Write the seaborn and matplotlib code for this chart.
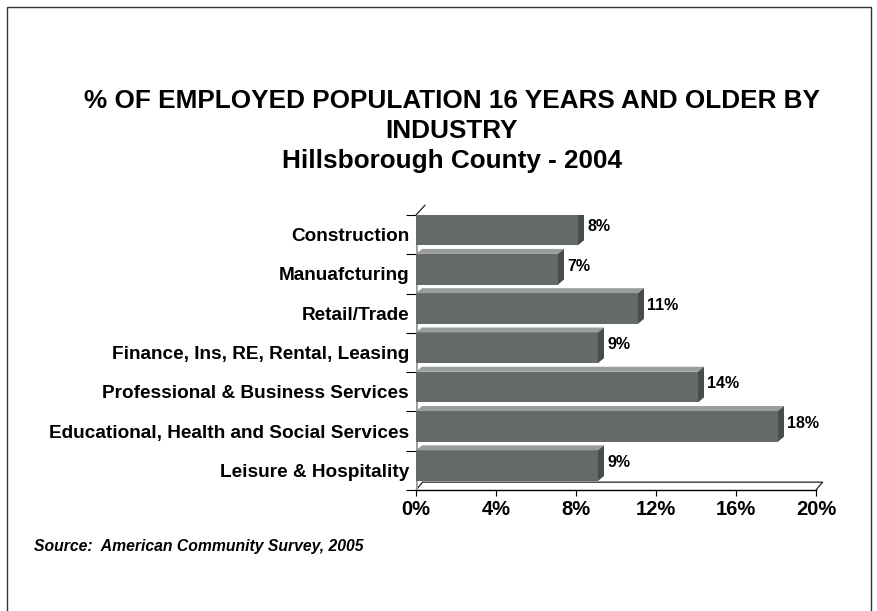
import matplotlib
matplotlib.use("Agg")
import matplotlib.pyplot as plt
import seaborn as sns
import pandas as pd
from matplotlib.patches import Polygon, Rectangle
from matplotlib.lines import Line2D

categories = ["Construction", "Manuafcturing", "Retail/Trade",
              "Finance, Ins, RE, Rental, Leasing",
              "Professional & Business Services",
              "Educational, Health and Social Services",
              "Leisure & Hospitality"]
values = [8.1, 7.1, 11.1, 9.1, 14.1, 18.1, 9.1]
value_labels = ["8%", "7%", "11%", "9%", "14%", "18%", "9%"]
x_ticks = [0, 4, 8, 12, 16, 20]
x_tick_labels = ["0%", "4%", "8%", "12%", "16%", "20%"]

sns.set_theme(style="white")
plt.rcParams["font.family"] = ["Liberation Sans", "DejaVu Sans"]
plt.rcParams["text.color"] = "black"
plt.rcParams["xtick.color"] = "black"
plt.rcParams["ytick.color"] = "black"
plt.rcParams["axes.labelcolor"] = "black"

W, H = 877, 611
fig = plt.figure(figsize=(W / 100, H / 100), dpi=100)
ax = fig.add_axes([416 / W, 1 - 490 / H, 400 / W, 275 / H])

df = pd.DataFrame({"industry": categories, "pct": values})
sns.barplot(data=df, x="pct", y="industry", orient="h", color="#646a69",
            saturation=1, width=0.78, ax=ax, zorder=3)

ax.set_xlim(0, 20)
ax.set_ylim(6.5, -0.5)

px_x = 400 / 20.0
px_y = 275 / 7.0
dx = 6 / px_x
dy = 5 / px_y
shift = 0.12

for p, lab in zip(ax.patches, value_labels):
    p.set_edgecolor("none")
    p.set_y(p.get_y() - shift)
    x1 = p.get_width()
    y0 = p.get_y()
    y1 = y0 + p.get_height()
    top = Polygon([(0, y0), (x1, y0), (x1 + dx, y0 - dy), (dx, y0 - dy)],
                  closed=True, facecolor="#9b9d9d", edgecolor="none", zorder=3)
    side = Polygon([(x1, y0), (x1 + dx, y0 - dy), (x1 + dx, y1 - dy), (x1, y1)],
                   closed=True, facecolor="#474d4c", edgecolor="none", zorder=3)
    ax.add_patch(top)
    ax.add_patch(side)
    ax.text(x1 + dx + 0.15, (y0 + y1) / 2 - 0.08, lab, fontsize=11.5,
            fontweight="bold", color="black", va="center", ha="left", zorder=4)

fy = 6.5
ax.add_line(Line2D([0, dx * 1.1, 20 + dx * 1.1, 20], [fy, fy - 0.2, fy - 0.2, fy],
                   color="#222222", lw=0.9, clip_on=False, zorder=2))
ax.add_line(Line2D([0, dx * 1.5], [-0.5, -0.5 - 0.25],
                   color="#222222", lw=0.9, clip_on=False, zorder=2))
ax.add_patch(Rectangle((0, -0.5), 0.12, 7.0, facecolor="#a0a0a0",
                       edgecolor="none", clip_on=False, zorder=2))

for s in ["top", "right", "left"]:
    ax.spines[s].set_visible(False)
ax.spines["bottom"].set_color("black")
ax.spines["bottom"].set_linewidth(1.0)

ax.set_xticks(x_ticks)
ax.set_xticklabels(x_tick_labels, fontsize=14.5, fontweight="bold")
ax.tick_params(axis="x", length=4, width=0.8, color="black", bottom=True,
               direction="out", pad=3)
ax.set_yticks(range(len(categories)))
ax.set_yticklabels(categories, fontsize=13.7, fontweight="bold")
ax.tick_params(axis="y", length=0, pad=5)
ax.set_yticks([i + 0.5 for i in range(-1, len(categories))], minor=True)
ax.tick_params(axis="y", which="minor", length=7, width=0.8, color="black", left=True)
ax.set_xlabel("")
ax.set_ylabel("")
ax.grid(False)

fs_title = 18.8
fig.text(452 / W, 1 - 101 / H, "% OF EMPLOYED POPULATION 16 YEARS AND OLDER BY",
         ha="center", va="center", fontsize=fs_title, fontweight="bold")
fig.text(452 / W, 1 - 131 / H, "INDUSTRY",
         ha="center", va="center", fontsize=fs_title, fontweight="bold")
fig.text(452 / W, 1 - 161 / H, "Hillsborough County - 2004",
         ha="center", va="center", fontsize=fs_title, fontweight="bold")
fig.text(34 / W, 1 - 547 / H, "Source:  American Community Survey, 2005",
         ha="left", va="center", fontsize=11.3, fontweight="bold", style="italic")

fig.add_artist(Rectangle((7 / W, -0.05), (871 - 7) / W, 1 - 7 / H + 0.05,
                         transform=fig.transFigure, facecolor="none",
                         edgecolor="#333333", lw=1.0))

fig.savefig("out.png", dpi=100)
